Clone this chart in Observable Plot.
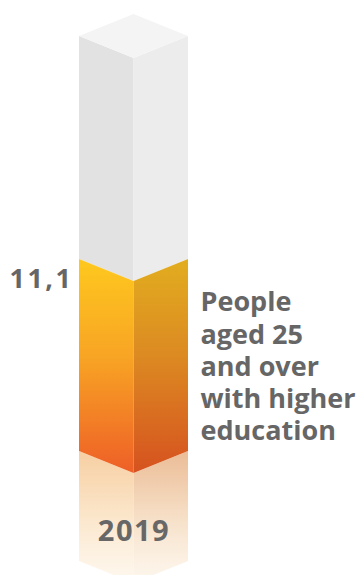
<!DOCTYPE html>
<html>
<head>
<meta charset="utf-8">
<script src="https://cdn.jsdelivr.net/npm/d3@7"></script>
<script src="https://cdn.jsdelivr.net/npm/@observablehq/plot@0.6"></script>
<style>
html, body { margin: 0; padding: 0; background: #fff; }
#chart { position: relative; width: 363px; height: 575px; }
</style>
</head>
<body>
<div id="chart"></div>
<script>
// Data
const years = ["2019"];
const values = [11.1];
const valueLabels = ["11,1"];
const seriesLabel = ["People", "aged 25", "and over", "with higher", "education"];
const maxValue = 24;

const W = 363, H = 575;
const yTopPx = 36, yBasePx = 451;
const pxPerUnit = (yBasePx - yTopPx) / maxValue;
const slant = 22 / pxPerUnit;      // depth offset in value units
const reflect = 110 / pxPerUnit;   // reflection length in value units
const v = values[0];

const leftX = [0, 1], rightX = [1, 2];
const dx = x => x <= 1 ? x : 2 - x;
function face(xs, lo, hi) {
  return xs.map(x => ({x, y1: lo - slant * dx(x), y2: hi - slant * dx(x)}));
}
const topFace = [0, 1, 2].map(x => ({x, y1: maxValue - slant * dx(x), y2: maxValue + slant * dx(x)}));

const FONT = "'Open Sans', sans-serif";

const plot = Plot.plot({
  width: W,
  height: H,
  marginTop: 0, marginBottom: 0, marginLeft: 0, marginRight: 0,
  x: {domain: [0, 2], range: [79, 188], axis: null},
  y: {domain: [0, maxValue], range: [yBasePx, yTopPx], axis: null},
  style: {background: "transparent", overflow: "visible"},
  marks: [
    Plot.areaY(face(leftX, -reflect, 0), {x: "x", y1: "y1", y2: "y2", fill: "url(#refL)", curve: "linear"}),
    Plot.areaY(face(rightX, -reflect, 0), {x: "x", y1: "y1", y2: "y2", fill: "url(#refR)", curve: "linear"}),
    Plot.areaY(face(leftX, v, maxValue), {x: "x", y1: "y1", y2: "y2", fill: "#e2e2e2", curve: "linear"}),
    Plot.areaY(face(rightX, v, maxValue), {x: "x", y1: "y1", y2: "y2", fill: "#ececec", curve: "linear"}),
    Plot.areaY(topFace, {x: "x", y1: "y1", y2: "y2", fill: "#f4f4f4", curve: "linear"}),
    Plot.areaY(face(leftX, 0, v), {x: "x", y1: "y1", y2: "y2", fill: "url(#valL)", curve: "linear"}),
    Plot.areaY(face(rightX, 0, v), {x: "x", y1: "y1", y2: "y2", fill: "url(#valR)", curve: "linear"}),
    Plot.text(valueLabels, {x: 0, y: v, text: d => d, dx: -6, dy: 20, textAnchor: "end",
      fontSize: 27, fontWeight: 700, fill: "#666666", fontFamily: FONT, className: "vlabel"}),
    Plot.text(years, {x: 1, y: 0, text: d => d, dy: 80, textAnchor: "middle",
      fontSize: 29, fontWeight: 700, fill: "#676767", fontFamily: FONT, className: "ylabel"}),
    Plot.text([seriesLabel.join("\n")], {x: 2, y: v, text: d => d, dx: 12, dy: 29,
      textAnchor: "start", lineAnchor: "top", lineHeight: 1.19,
      fontSize: 27, fontWeight: 700, fill: "#666666", fontFamily: FONT})
  ]
});

const svg = d3.select(plot);
svg.selectAll(".vlabel text").style("letter-spacing", "2.5px");
svg.selectAll(".ylabel text").style("letter-spacing", "1.5px");
const defs = svg.insert("defs", ":first-child");
function grad(id, stops) {
  const g = defs.append("linearGradient").attr("id", id)
    .attr("x1", 0).attr("y1", 0).attr("x2", 0).attr("y2", 1);
  stops.forEach(([o, c, op = 1]) => g.append("stop").attr("offset", o).attr("stop-color", c).attr("stop-opacity", op));
}
grad("valL", [[0, "#fec81e"], [0.45, "#f8a524"], [1, "#ee5f27"]]);
grad("valR", [[0, "#e2ad1f"], [0.45, "#dc8a22"], [1, "#d6521f"]]);
grad("refL", [[0, "#f7cfa2"], [0.5, "#fbe6cb"], [1, "#fdf3e3", 0.6]]);
grad("refR", [[0, "#ebbc96"], [0.5, "#f6dfc6"], [1, "#fcf1e2", 0.6]]);

document.getElementById("chart").appendChild(plot);
</script>
</body>
</html>
